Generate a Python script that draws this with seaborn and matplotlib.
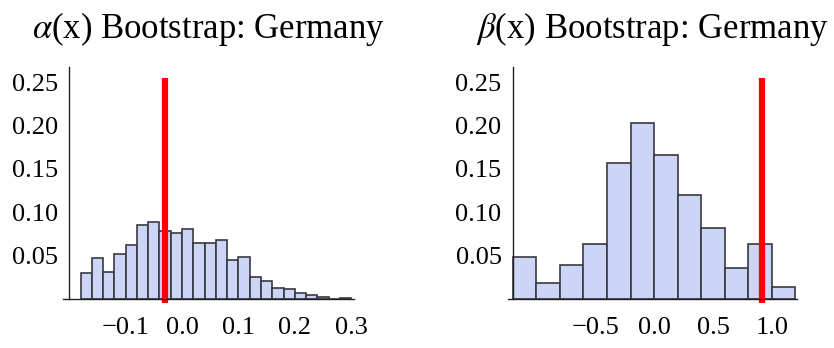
import numpy as np
import pandas as pd
import matplotlib
matplotlib.use("Agg")
import matplotlib.pyplot as plt
import seaborn as sns
from matplotlib.ticker import FixedLocator, FuncFormatter

# ---- data ----
alpha_edges = [-0.18, -0.16, -0.14, -0.12, -0.10, -0.08, -0.06, -0.04, -0.02, 0.00,
               0.02, 0.04, 0.06, 0.08, 0.10, 0.12, 0.14, 0.16, 0.18, 0.20,
               0.22, 0.24, 0.26, 0.28, 0.30]
alpha_freq = [0.030, 0.047, 0.031, 0.052, 0.062, 0.085, 0.089, 0.078, 0.076, 0.080,
              0.064, 0.064, 0.068, 0.044, 0.048, 0.025, 0.020, 0.012, 0.011, 0.006,
              0.004, 0.002, 0.000, 0.001]
alpha_estimate = -0.031

beta_edges = [-1.2, -1.0, -0.8, -0.6, -0.4, -0.2, 0.0, 0.2, 0.4, 0.6, 0.8, 1.0, 1.2]
beta_freq = [0.048, 0.018, 0.039, 0.063, 0.157, 0.203, 0.166, 0.120, 0.082, 0.035, 0.063, 0.013]
beta_estimate = 0.913

titles = [r"$\alpha$(x) Bootstrap: Germany", r"$\beta$(x) Bootstrap: Germany"]
alpha_xticks = [-0.1, 0.0, 0.1, 0.2, 0.3]
beta_xticks = [-0.5, 0.0, 0.5, 1.0]
yticks = [0.05, 0.10, 0.15, 0.20, 0.25]

sns.set_style("white")
plt.rcParams["font.family"] = ["Liberation Serif", "DejaVu Serif"]
plt.rcParams["mathtext.fontset"] = "stix"
plt.rcParams["text.color"] = "black"

W, H = 834, 348
fig = plt.figure(figsize=(W / 100, H / 100), dpi=100)

face = (0.80, 0.835, 0.965)
edge = (0.22, 0.22, 0.25)
ylim = (-0.006, 0.268)


def px_axes(left, right, top, bottom):
    return fig.add_axes([left / W, 1 - bottom / H, (right - left) / W, (bottom - top) / H])


def fmt(v, pos):
    s = f"{v:.1f}"
    return s.replace("-", "\u2212")


def panel(ax, edges, freq, est, xlim, yaxis_x, xticks, xminor, title):
    centers = [(a + b) / 2 for a, b in zip(edges[:-1], edges[1:])]
    df = pd.DataFrame({"x": centers, "w": freq})
    sns.histplot(data=df, x="x", weights="w", bins=list(edges), ax=ax, stat="count",
                 color=face, alpha=1.0, edgecolor=edge, linewidth=1.2)
    ax.vlines(est, -0.005, 0.255, color="#ff0000", linewidth=4.5, zorder=5)
    ax.set_xlim(*xlim)
    ax.set_ylim(*ylim)
    ax.set_xlabel("")
    ax.set_ylabel("")
    for s in ("top", "right"):
        ax.spines[s].set_visible(False)
    ax.spines["bottom"].set_position(("data", 0))
    ax.spines["left"].set_position(("data", yaxis_x))
    ax.spines["left"].set_bounds(-0.001, ylim[1])
    for s in ("bottom", "left"):
        ax.spines[s].set_color("#222222")
        ax.spines[s].set_linewidth(1.0)
        ax.spines[s].set_zorder(6)
    ax.xaxis.set_major_locator(FixedLocator(xticks))
    ax.xaxis.set_minor_locator(FixedLocator(xminor))
    ax.yaxis.set_major_locator(FixedLocator(yticks))
    ax.yaxis.set_minor_locator(FixedLocator(np.round(np.arange(0.01, 0.265, 0.01), 2)))
    ax.xaxis.set_major_formatter(FuncFormatter(fmt))
    ax.yaxis.set_major_formatter(FuncFormatter(lambda v, p: f"{v:.2f}"))
    ax.tick_params(axis="both", which="major", direction="in", length=4.5, width=0.9,
                   color="#333333", labelsize=19, labelcolor="black")
    ax.tick_params(axis="both", which="minor", direction="in", length=2.5, width=0.8,
                   color="#333333")
    ax.tick_params(axis="x", which="major", pad=13)
    ax.tick_params(axis="y", which="major", pad=8)
    ax.set_title(title, fontsize=25, pad=21, color="black")
    ax.patch.set_alpha(0)
    ax.grid(False)


ax1 = px_axes(63.3, 354.3, 66.9, 303.7)
panel(ax1, alpha_edges, alpha_freq, alpha_estimate, (-0.2105, 0.3055), -0.2,
      alpha_xticks, np.round(np.arange(-0.2, 0.31, 0.02), 2), titles[0])

ax2 = px_axes(508, 797, 66.9, 303.7)
panel(ax2, beta_edges, beta_freq, beta_estimate, (-1.24, 1.213), -1.2,
      beta_xticks, np.round(np.arange(-1.1, 1.21, 0.1), 1), titles[1])

fig.savefig("out.png", dpi=100)
